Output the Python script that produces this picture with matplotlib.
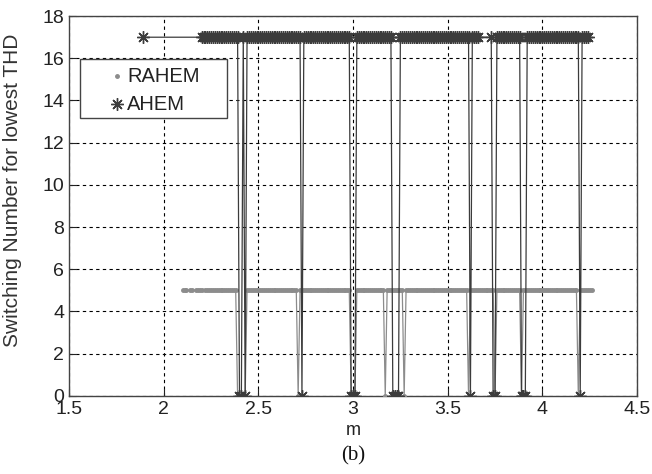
import numpy as np
import matplotlib
matplotlib.use("Agg")
import matplotlib.pyplot as plt
from matplotlib.patches import Rectangle

ahem_runs = [
    (1.89, 1.89, 17),
    (2.20, 2.39, 17), (2.40, 2.41, 0), (2.42, 2.42, 17), (2.43, 2.43, 0),
    (2.44, 2.72, 17), (2.73, 2.73, 0),
    (2.74, 2.98, 17), (2.99, 3.01, 0),
    (3.02, 3.20, 17), (3.21, 3.24, 0),
    (3.25, 3.61, 17), (3.62, 3.62, 0),
    (3.63, 3.66, 17), (3.73, 3.73, 17), (3.74, 3.75, 0),
    (3.76, 3.88, 17), (3.89, 3.91, 0),
    (3.92, 4.19, 17), (4.20, 4.20, 0),
    (4.21, 4.24, 17),
]
rahem_runs = [
    (2.10, 2.12, 5), (2.14, 2.15, 5), (2.17, 2.20, 5),
    (2.22, 2.38, 5), (2.39, 2.43, 0),
    (2.44, 2.70, 5), (2.71, 2.71, 0),
    (2.72, 2.98, 5), (2.99, 3.01, 0),
    (3.02, 3.16, 5), (3.17, 3.17, 0),
    (3.18, 3.26, 5), (3.27, 3.27, 0),
    (3.28, 3.60, 5), (3.61, 3.61, 0),
    (3.62, 3.74, 5), (3.75, 3.75, 0),
    (3.76, 3.88, 5), (3.89, 3.89, 0),
    (3.90, 4.18, 5), (4.19, 4.19, 0),
    (4.20, 4.26, 5),
]

x_ticks = [1.5, 2, 2.5, 3, 3.5, 4, 4.5]
x_ticklabels = ["1.5", "2", "2.5", "3", "3.5", "4", "4.5"]
y_ticks = [0, 2, 4, 6, 8, 10, 12, 14, 16, 18]
series_names = ['RAHEM', 'AHEM']

rahem_color = '#8c8c8c'
ahem_color = '#3c3c3c'
star = (8, 2, 0)


def expand(runs):
    xs, ys = [], []
    for a, b, v in runs:
        n = int(round((b - a) / 0.01)) + 1
        for k in range(n):
            xs.append(round(a + 0.01 * k, 2))
            ys.append(v)
    return np.array(xs), np.array(ys)


ahem_m, ahem_n = expand(ahem_runs)
rahem_m, rahem_n = expand(rahem_runs)

plt.rcParams['font.family'] = ['Liberation Sans', 'DejaVu Sans']

fig = plt.figure(figsize=(6.52, 4.74), dpi=100)
ax = fig.add_axes([0.106, 0.165, 0.871, 0.801])

ax.plot(rahem_m, rahem_n, color=rahem_color, lw=0.9, marker='.', ms=5,
        mec=rahem_color, mfc=rahem_color, zorder=3)
ax.plot(ahem_m, ahem_n, color=ahem_color, lw=0.9, marker=star, ms=9,
        mew=1.0, mec=ahem_color, mfc=ahem_color, zorder=4)

ax.set_xlim(1.5, 4.5)
ax.set_ylim(0, 18)
ax.set_xticks(x_ticks)
ax.set_xticklabels(x_ticklabels)
ax.set_yticks(y_ticks)
ax.tick_params(direction='in', length=5, width=0.8, labelsize=14,
               colors='#222222', top=False, right=False)
ax.grid(True, color='black', linestyle=(0, (3, 3)), linewidth=0.8)
for s in ax.spines.values():
    s.set_color('#444444')
    s.set_linewidth(1.0)

ax.set_xlabel('m', fontsize=13, color='#222222', labelpad=3)
ax.set_ylabel('Switching Number for lowest THD', fontsize=15,
              color='#333333')
ax.yaxis.set_label_coords(-0.083, 0.54)

# MATLAB-style legend box, marker left of each label
ax.add_patch(Rectangle((0.0194, 0.732), 0.259, 0.155, transform=ax.transAxes,
                       facecolor='white', edgecolor='#444444', lw=1.0,
                       zorder=6, clip_on=False))
ax.plot([0.0845], [0.842], transform=ax.transAxes, ls='none', marker='.',
        ms=5, color=rahem_color, zorder=7, clip_on=False)
ax.plot([0.0845], [0.768], transform=ax.transAxes, ls='none', marker=star,
        ms=9, mew=1.0, color=ahem_color, zorder=7, clip_on=False)
ax.text(0.102, 0.842, series_names[0], transform=ax.transAxes, fontsize=14.5,
        va='center', ha='left', color='#222222', zorder=8)
ax.text(0.102, 0.768, series_names[1], transform=ax.transAxes, fontsize=14.5,
        va='center', ha='left', color='#222222', zorder=8)

fig.text(0.541, 0.038, '(b)', fontsize=15, family='Liberation Serif',
         ha='center', va='center', color='#111111')

fig.savefig('out.png', dpi=100)
